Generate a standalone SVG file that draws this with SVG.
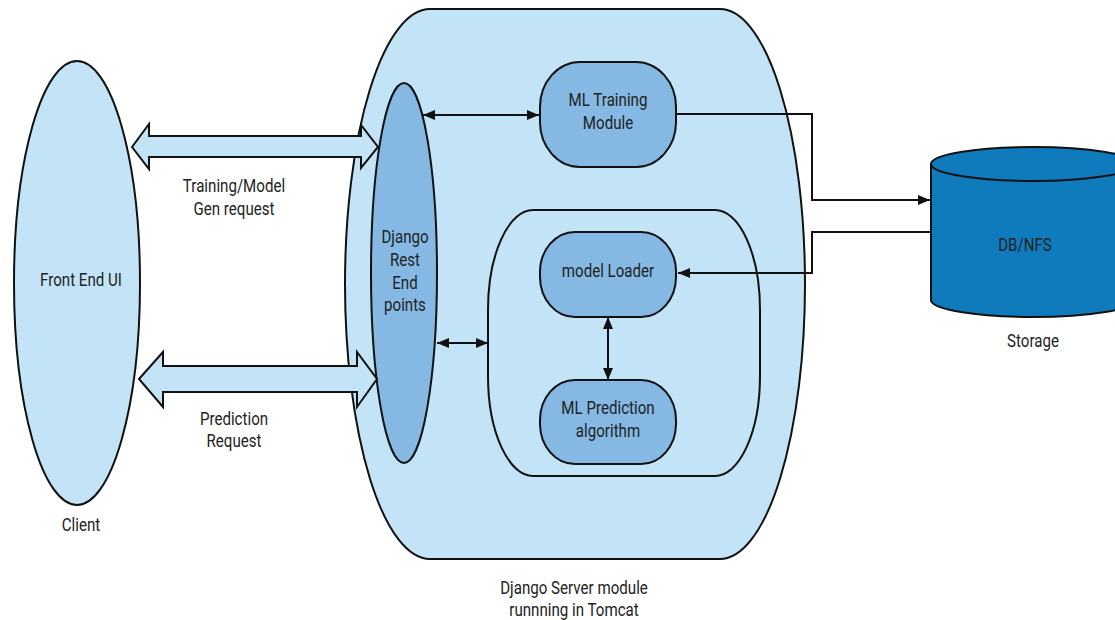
<svg xmlns="http://www.w3.org/2000/svg" width="1115" height="620" viewBox="0 0 1115 620">
<style>
.light{fill:#c2e4f6;stroke:#111;stroke-width:2}
.mid{fill:#85b9e3;stroke:#111;stroke-width:2}
.db{fill:#0f7bbd;stroke:#111;stroke-width:2}
.line{fill:none;stroke:#111;stroke-width:2}
text{font-family:"Roboto","Liberation Sans",sans-serif;font-size:18px;fill:#222;text-anchor:middle}
</style>
<defs>
<marker id="ah" viewBox="0 0 12 10" refX="12" refY="5" markerWidth="12" markerHeight="10" markerUnits="userSpaceOnUse" orient="auto-start-reverse">
<path d="M0,0 L12,5 L0,10 Z" fill="#111"/>
</marker>
</defs>
<rect width="1115" height="620" fill="#fff"/>
<g id="server">
<rect class="light" x="345" y="9" width="460" height="550" rx="85" ry="275"/>
<g transform="scale(0.84 1)">
<text x="683.33" y="594">Django Server module</text>
<text x="683.33" y="616">runnning in Tomcat</text>
</g>
</g>
<g id="client">
<ellipse class="light" cx="77" cy="283" rx="63" ry="222"/>
<g transform="scale(0.84 1)">
<text x="96.43" y="286">Front End UI</text>
<text x="96.43" y="531">Client</text>
</g>
</g>
<g id="django-rest">
<ellipse class="mid" cx="404" cy="273" rx="33" ry="190"/>
<g transform="scale(0.84 1)">
<text x="482.14" y="243">Django</text>
<text x="482.14" y="266">Rest</text>
<text x="482.14" y="289">End</text>
<text x="482.14" y="311">points</text>
</g>
</g>
<g id="ml-training">
<rect class="mid" x="540" y="62" width="136" height="105" rx="40" ry="45"/>
<g transform="scale(0.84 1)">
<text x="723.81" y="106">ML Training</text>
<text x="723.81" y="129">Module</text>
</g>
</g>
<g id="prediction-container">
<rect class="light" x="488" y="210" width="272" height="266" rx="45" ry="100"/>
</g>
<g id="model-loader">
<rect class="mid" x="540" y="232" width="136" height="85" rx="35" ry="40"/>
<g transform="scale(0.84 1)">
<text x="723.81" y="277">model Loader</text>
</g>
</g>
<g id="ml-prediction">
<rect class="mid" x="540" y="380" width="136" height="84" rx="35" ry="40"/>
<g transform="scale(0.84 1)">
<text x="723.81" y="414">ML Prediction</text>
<text x="723.81" y="437">algorithm</text>
</g>
</g>
<g id="storage">
<path class="db" d="M931,164 L931,300 A102,17 0 0 0 1135,300 L1135,164"/>
<ellipse class="db" cx="1033" cy="164" rx="102" ry="17"/>
<g transform="scale(0.84 1)">
<text x="1220.24" y="251">DB/NFS</text>
<text x="1229.76" y="347">Storage</text>
</g>
</g>
<g id="labels">
<g transform="scale(0.84 1)">
<text x="278.57" y="192">Training/Model</text>
<text x="278.57" y="215">Gen request</text>
<text x="278.57" y="425">Prediction</text>
<text x="278.57" y="447">Request</text>
</g>
</g>
<g id="connectors">
<path class="light" d="M132,147 L149,124 L149,136 L361,136 L361,125 L378,147 L361,168 L361,157 L149,157 L149,169 Z"/>
<path class="light" d="M139,379 L163,352 L163,366 L357,366 L357,352 L377,379 L357,407 L357,392 L163,392 L163,407 Z"/>
<line class="line" x1="423" y1="115" x2="539" y2="115" marker-start="url(#ah)" marker-end="url(#ah)"/>
<path class="line" d="M676,114 H812 V200 H930" marker-end="url(#ah)"/>
<path class="line" d="M931,232 H812 V273 H678" marker-end="url(#ah)"/>
<line class="line" x1="437" y1="343" x2="488" y2="343" marker-start="url(#ah)" marker-end="url(#ah)"/>
<line class="line" x1="608" y1="317" x2="608" y2="380" marker-start="url(#ah)" marker-end="url(#ah)"/>
</g>
</svg>
